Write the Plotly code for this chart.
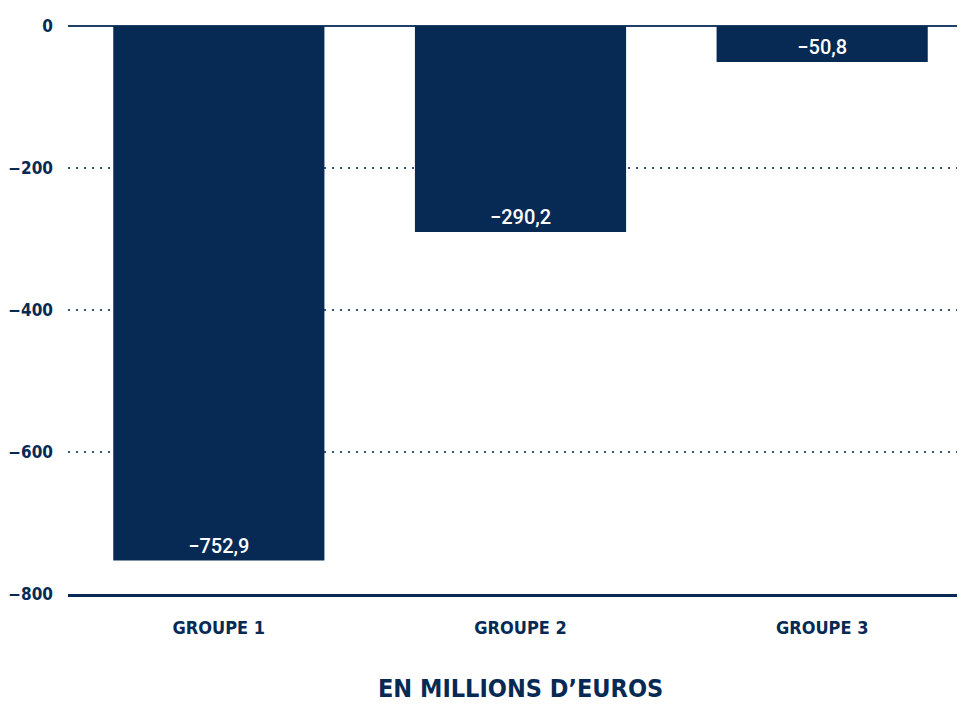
import plotly.graph_objects as go

categories = ["GROUPE 1", "GROUPE 2", "GROUPE 3"]
values = [-752.9, -290.2, -50.8]
tick_vals = [0, -200, -400, -600, -800]
tick_text = ["0", "−200", "−400", "−600", "−800"]
title_text = "EN MILLIONS D’EUROS"

navy = "#062a54"
cond = "DejaVu Sans Condensed, Roboto, sans-serif"
labels = [f"{v:.1f}".replace("-", "−").replace(".", ",") for v in values]

fig = go.Figure(go.Bar(
    x=categories, y=values, text=labels,
    textposition="inside", insidetextanchor="end",
    textfont=dict(family="Roboto", size=20, color="white", weight=500),
    marker=dict(color=navy, line=dict(width=0)),
    width=0.70,
))

fig.update_layout(
    width=965, height=696,
    margin=dict(l=60, r=0, t=18, b=110),
    paper_bgcolor="white", plot_bgcolor="white",
    showlegend=False,
    xaxis=dict(
        showline=True, linecolor=navy, linewidth=2.5,
        showgrid=False, ticks="", ticklabelstandoff=16,
        tickfont=dict(family=cond, size=18, color=navy, weight="bold"),
    ),
    yaxis=dict(
        range=[-800, 0], tickvals=tick_vals, ticktext=tick_text,
        showgrid=True, gridcolor="#3a5678", griddash="2px,6px", gridwidth=1.5,
        zeroline=True, zerolinecolor="#1f3f66", zerolinewidth=1.5,
        showline=False, ticks="", ticklabelstandoff=14,
        tickfont=dict(family=cond, size=17, color=navy, weight="bold"),
    ),
    annotations=[dict(
        text=title_text, xref="paper", yref="paper", x=0.5, y=-0.166,
        xanchor="center", yanchor="middle", showarrow=False,
        font=dict(family=cond, size=25, color=navy, weight="bold"),
    )],
)

fig.write_html("out.html")
